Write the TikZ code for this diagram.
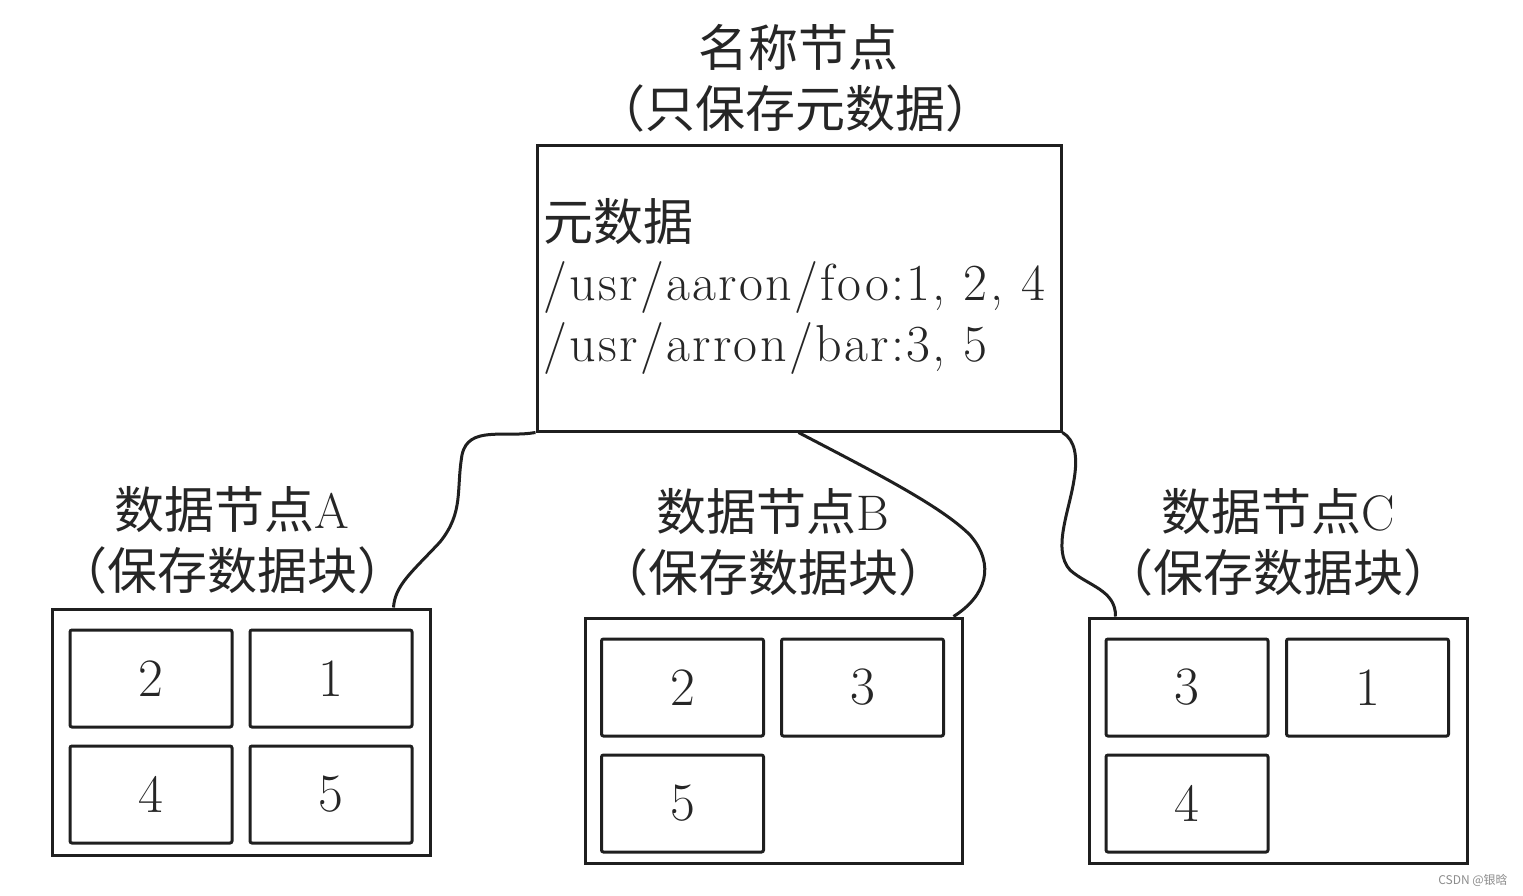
\documentclass[tikz,border=0pt]{standalone}
\usepackage{fontspec}
\newfontfamily\cjk{Noto Sans CJK SC}
\newfontfamily\latinsp{Latin Modern Roman}[LetterSpace=4.5]
\begin{document}
\begin{tikzpicture}[x=1pt,y=-1pt,
  ink/.style={draw=black!88, line width=3pt},
  outerbox/.style={ink, minimum width=378pt, minimum height=246pt, inner sep=0pt},
  cell/.style={ink, rounded corners=2pt, minimum width=162pt, minimum height=97pt, inner sep=0pt, font=\fontsize{54}{54}\selectfont, text=black!85},
  cjktitle/.style={font=\cjk\fontsize{50}{50}\selectfont, text=black!85, inner sep=0pt},
  latinline/.style={font=\latinsp\fontsize{52}{52}\selectfont, text=black!85, inner sep=0pt, anchor=west},
  link/.style={draw=black!88, line width=3pt}
]
\useasboundingbox (0,0) rectangle (1523,895);
\fill[white] (0,0) rectangle (1523,895);

% name node
\node[cjktitle] (t1) at (798,47) {名称节点};
\node[cjktitle] (t2) at (795,108) {（只保存元数据）};
\node[ink, minimum width=524pt, minimum height=286pt, inner sep=0pt] (nn) at (799,288) {};
\node[cjktitle, anchor=west] (m1) at (543,222) {元数据};
\node[latinline] (m2) at (543,287) {/usr/aaron/foo:1, 2, 4};
\node[latinline] (m3) at (543,348) {/usr/arron/bar:3, 5};

% data node A
\node[cjktitle] (at1) at (232,510) {数据节点\fontspec{Latin Modern Roman}A};
\node[cjktitle] (at2) at (232,570) {（保存数据块）};
\node[outerbox] (da) at (241,732) {};
\node[cell] (a2) at (151,678.5) {2};
\node[cell] (a1) at (331,678.5) {1};
\node[cell] (a4) at (151,794.5) {4};
\node[cell] (a5) at (331,794.5) {5};

% data node B
\node[cjktitle] (bt1) at (773,512) {数据节点\fontspec{Latin Modern Roman}B};
\node[cjktitle] (bt2) at (773,572) {（保存数据块）};
\node[outerbox, minimum width=377pt, minimum height=245pt] (db) at (773.5,740.5) {};
\node[cell] (b2) at (682.5,687.5) {2};
\node[cell] (b3) at (862.5,687.5) {3};
\node[cell] (b5) at (682.5,803.5) {5};

% data node C
\node[cjktitle] (ct1) at (1278,512) {数据节点\fontspec{Latin Modern Roman}C};
\node[cjktitle] (ct2) at (1278,572) {（保存数据块）};
\node[outerbox, minimum height=245pt] (dc) at (1278,740.5) {};
\node[cell] (c3) at (1187,687.5) {3};
\node[cell] (c1) at (1367.5,687.5) {1};
\node[cell] (c4) at (1187,803.5) {4};

% connectors
\draw[link] (nn.south west) .. controls (505,438) and (468,425) .. (462,455)
  .. controls (456,490) and (464,512) .. (440,542)
  .. controls (412,572) and (395,585) .. ([xshift=343pt]da.north west);
\draw[link] ([xshift=263pt]nn.south west) .. controls (870,470) and (940,505) .. (970,535)
  .. controls (996,565) and (986,596) .. ([xshift=370pt]db.north west);
\draw[link] (nn.south east) .. controls (1075,440) and (1078,456) .. (1074,480)
  .. controls (1069,512) and (1052,550) .. (1070,570)
  .. controls (1088,586) and (1116,590) .. ([xshift=28pt]dc.north west);

% watermark
\node[font=\cjk\fontsize{12}{12}\selectfont, text=black!45, inner sep=0pt] (wm) at (1473,880) {CSDN @银晗};
\end{tikzpicture}
\end{document}
